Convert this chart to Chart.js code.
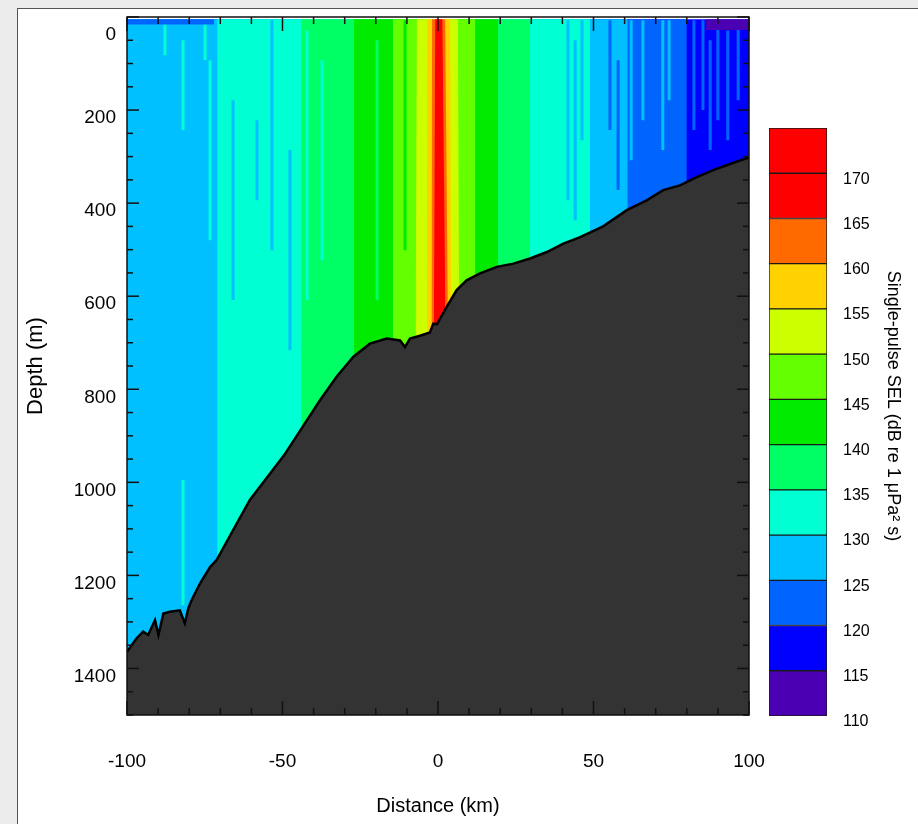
<!DOCTYPE html>
<html>
<head>
<meta charset="utf-8">
<title>Single-pulse SEL section</title>
<script src="https://cdn.jsdelivr.net/npm/chart.js@4.4.1/dist/chart.umd.min.js"></script>
<style>
    body { margin: 0; background: #ececec; overflow: hidden; }
    #panel { position: absolute; left: 17px; top: 8px; width: 940px; height: 860px; background: #fff; border-left: 1.5px solid #555; border-top: 1.5px solid #555; }
    canvas { position: absolute; left: 0; top: 0; }
</style>
</head>
<body>
<div id="panel"></div>
<canvas id="sectionChart" width="918" height="824"></canvas>
<canvas id="colorbarChart" width="918" height="824"></canvas>
<script>
// axis ticks
const distTicks = [-100, -50, 0, 50, 100];
const depthTicks = [0, 200, 400, 600, 800, 1000, 1200, 1400];
const cbTicks = [110, 115, 120, 125, 130, 135, 140, 145, 150, 155, 160, 165, 170];

// SEL zones: region where SEL >= level, as left/right edge (km) near surface and at ~650 m
const selLevels = [115, 120, 125, 130, 135, 140, 145, 150, 155, 160, 165];
const edgeLeftTop = [-100, -100, -100, -71, -44, -30.5, -14.5, -6.8, -3.5, -1.9, -0.9];
const edgeRightTop = [100, 80, 61, 48.9, 29.6, 19.3, 12, 6.4, 3.9, 2.3, 1.4];
const edgeLeftDeep = [-100, -100, -100, -71, -44, -27, -14.5, -7.2, -3.6, -2.1, -1.3];
const edgeRightDeep = [100, 80, 61, 48.9, 29.6, 19.3, 12, 6.8, 4.2, 3.2, 2.4];
const selColors = ['#0000FF', '#0064FF', '#00C0FF', '#00FFD2', '#00FF64', '#00EB00', '#64FF00', '#CCFF00', '#FFD200', '#FF6A00', '#FF0000'];

// thin vertical streaks inside the zones: distance (km), top and bottom depth (m), SEL band
const streakDist = [62.1, 65.9, 72.3, 74.3, 82.3, 85.2, 87.5, 90.0, 93.2, 96.5, 55.3, 57.9, 41.8, 44.1, 46.3,
    -87.8, -82.0, -74.9, -73.3, -65.9, -58.2, -53.4, -47.6, -42.1, -37.3, -28.3, -19.6, -10.6, -82.0];
const streakTop = [7, 7, 7, 7, 7, 7, 50, 7, 29, 7, 7, 93, 7, 50, 7,
    7, 50, 7, 93, 179, 222, 7, 286, 29, 93, 7, 50, 7, 995];
const streakBottom = [308, 222, 286, 179, 243, 200, 286, 222, 265, 179, 243, 372, 394, 437, 265,
    82, 243, 93, 480, 608, 394, 501, 716, 608, 523, 394, 608, 501, 1264];
const streakLevel = [125, 125, 125, 125, 120, 120, 120, 120, 120, 120, 120, 120, 125, 125, 125,
    130, 130, 130, 130, 125, 125, 125, 125, 130, 130, 135, 135, 140, 130];

// thin surface patches (km span, bottom depth m)
const surfaceFrom = [-100, 86];
const surfaceTo = [-72, 100];
const surfaceBottom = [16, 28];
const surfaceLevel = [120, 110];

// seafloor profile
const bathyDist = [-100, -96.9, -94.8, -93.2, -91.0, -89.9, -88.3, -86.2, -83.0, -81.4, -80.3, -79.2, -76.5, -73.3, -71.2,
    -60.5, -49.5, -37.9, -32.6, -27.2, -21.9, -16.5, -12.2, -10.6, -9.0, -5.8, -2.6, -1.5, -0.3, 2.8, 6.0, 9.2, 13.5,
    18.9, 24.2, 29.6, 35.0, 40.3, 45.7, 53.1, 60.7, 67.1, 72.4, 77.8, 83.2, 88.5, 93.9, 100];
const bathyDepth = [1364, 1335, 1321, 1328, 1296, 1328, 1282, 1278, 1275, 1303, 1271, 1253, 1217, 1182, 1167,
    1038, 942, 823, 773, 730, 702, 691, 695, 709, 691, 685, 678, 659, 660, 623, 587, 566, 551,
    537, 530, 519, 505, 487, 473, 450, 415, 394, 372, 362, 344, 329, 316, 302];

// colorbar
const cbLevels = [110, 115, 120, 125, 130, 135, 140, 145, 150, 155, 160, 165, 170];
const cbColors = ['#4C00B4', '#0000FF', '#0064FF', '#00C0FF', '#00FFD2', '#00FF64', '#00EB00', '#64FF00', '#CCFF00', '#FFD200', '#FF6A00', '#FF0000', '#FF0000'];

const WATER_TOP = 5;      // first grid row (m)
const EDGE_DEPTH = 650;   // depth of the "deep" edge values (m)
const MAX_DEPTH = 1500;
const STREAK_WIDTH = 1.1; // km
const FONT = '"Liberation Sans", Arial, Helvetica, sans-serif';

function levelColor(lvl) {
    return cbColors[cbLevels.indexOf(lvl)];
}

function line(ctx, x1, y1, x2, y2) {
    ctx.beginPath();
    ctx.moveTo(x1, y1);
    ctx.lineTo(x2, y2);
    ctx.stroke();
}

const sectionFrame = {
    id: 'sectionFrame',
    afterDraw(chart) {
        const { ctx, chartArea: a, scales: { x, y } } = chart;
        ctx.save();
        ctx.strokeStyle = '#111';
        ctx.lineWidth = 1.5;
        ctx.strokeRect(a.left, a.top, a.width, a.height);

        // inward ticks
        for (let v = -100; v <= 100; v += 10) {
            const px = x.getPixelForValue(v);
            const len = v % 50 === 0 ? 14 : 7;
            line(ctx, px, a.top, px, a.top + len);
            line(ctx, px, a.bottom, px, a.bottom - len);
        }
        for (let v = 0; v <= MAX_DEPTH; v += 50) {
            const py = y.getPixelForValue(v);
            const len = v % 200 === 0 ? 12 : 6;
            line(ctx, a.left, py, a.left + len, py);
            line(ctx, a.right, py, a.right - len, py);
        }

        // tick labels
        ctx.fillStyle = '#000';
        ctx.font = '19px ' + FONT;
        ctx.textAlign = 'center';
        ctx.textBaseline = 'middle';
        distTicks.forEach(v => ctx.fillText(String(v), x.getPixelForValue(v), a.bottom + 47));
        ctx.textAlign = 'right';
        depthTicks.forEach(v => {
            const py = Math.max(y.getPixelForValue(v) + 8, a.top + 18);
            ctx.fillText(String(v), a.left - 11, py);
        });

        // axis titles
        ctx.font = '20px ' + FONT;
        ctx.textAlign = 'center';
        ctx.fillText('Distance (km)', (a.left + a.right) / 2, a.bottom + 91);
        ctx.font = '22px ' + FONT;
        ctx.translate(36, (a.top + a.bottom) / 2);
        ctx.rotate(-Math.PI / 2);
        ctx.fillText('Depth (m)', 0, 0);
        ctx.restore();
    }
};

const colorbarText = {
    id: 'colorbarText',
    afterDraw(chart) {
        const { ctx, chartArea: a, scales: { y } } = chart;
        ctx.save();
        ctx.fillStyle = '#000';
        ctx.font = '16px ' + FONT;
        ctx.textAlign = 'left';
        ctx.textBaseline = 'middle';
        cbTicks.forEach(v => ctx.fillText(String(v), a.right + 16, y.getPixelForValue(v) + 6));
        ctx.font = '18px ' + FONT;
        ctx.textAlign = 'center';
        ctx.translate(a.right + 66, 406);
        ctx.rotate(Math.PI / 2);
        ctx.fillText('Single-pulse SEL (dB re 1 \u03bcPa\u00b2 s)', 0, 0);
        ctx.restore();
    }
};

// rectangle/trapezoid filled down to a given depth
function zoneSet(label, points, color, bottom, order) {
    return {
        label: label,
        data: points,
        backgroundColor: color,
        borderWidth: 0,
        pointRadius: 0,
        tension: 0,
        fill: { value: bottom },
        order: order
    };
}

const bandSets = selLevels.map((lvl, i) => zoneSet('SEL \u2265 ' + lvl, [
    { x: edgeLeftDeep[i], y: EDGE_DEPTH },
    { x: edgeLeftTop[i], y: WATER_TOP },
    { x: edgeRightTop[i], y: WATER_TOP },
    { x: edgeRightDeep[i], y: EDGE_DEPTH }
], selColors[i], MAX_DEPTH, 100 - i));

const streakSets = streakDist.map((d, i) => zoneSet('streak ' + i, [
    { x: d - STREAK_WIDTH / 2, y: streakTop[i] },
    { x: d + STREAK_WIDTH / 2, y: streakTop[i] }
], levelColor(streakLevel[i]), streakBottom[i], 30));

const surfaceSets = surfaceFrom.map((x0, i) => zoneSet('surface ' + i, [
    { x: x0, y: WATER_TOP },
    { x: surfaceTo[i], y: WATER_TOP }
], levelColor(surfaceLevel[i]), surfaceBottom[i], 20));

const seafloorSet = {
    label: 'Seafloor',
    data: bathyDist.map((d, i) => ({ x: d, y: bathyDepth[i] })),
    borderColor: '#000',
    borderWidth: 2.5,
    backgroundColor: '#333333',
    pointRadius: 0,
    tension: 0,
    fill: { value: MAX_DEPTH },
    order: 0
};

new Chart(document.getElementById('sectionChart'), {
    type: 'line',
    data: { datasets: [seafloorSet, ...surfaceSets, ...streakSets, ...bandSets] },
    options: {
        responsive: false,
        animation: false,
        layout: { padding: { left: 127, top: 17, right: 169, bottom: 109 } },
        scales: {
            x: { type: 'linear', min: -100, max: 100, display: false },
            y: { type: 'linear', min: 0, max: MAX_DEPTH, reverse: true, display: false }
        },
        plugins: { legend: { display: false }, tooltip: { enabled: false } }
    },
    plugins: [sectionFrame]
});

new Chart(document.getElementById('colorbarChart'), {
    type: 'bar',
    data: {
        labels: ['SEL'],
        datasets: cbLevels.map((lo, i) => ({
            label: lo + '-' + (lo + 5),
            data: [[lo, lo + 5]],
            backgroundColor: cbColors[i],
            borderColor: '#1a1a1a',
            borderWidth: 1,
            borderSkipped: false
        }))
    },
    options: {
        responsive: false,
        animation: false,
        layout: { padding: { left: 769, right: 91, top: 128, bottom: 108 } },
        datasets: { bar: { grouped: false, barPercentage: 1, categoryPercentage: 1 } },
        scales: {
            x: { display: false },
            y: { min: 110, max: 175, display: false }
        },
        plugins: { legend: { display: false }, tooltip: { enabled: false } }
    },
    plugins: [colorbarText]
});
</script>
</body>
</html>
